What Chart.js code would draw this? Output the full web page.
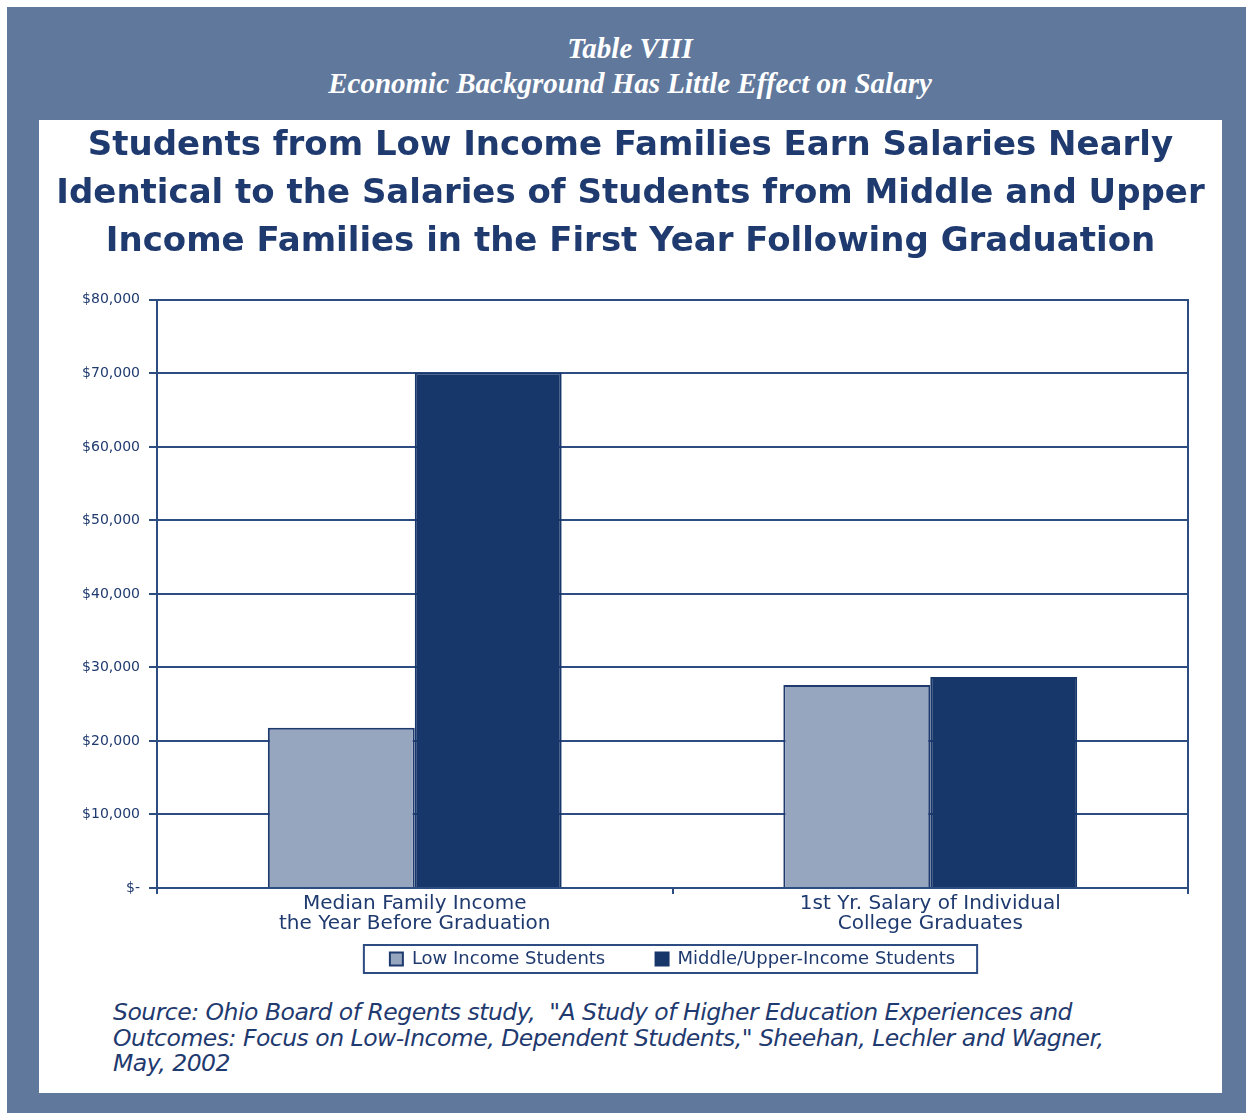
<!DOCTYPE html>
<html>
<head>
<meta charset="utf-8">
<script src="https://cdn.jsdelivr.net/npm/chart.js@4"></script>
<style>
  body { margin: 0; background: #fff; width: 1253px; height: 1120px; position: relative; overflow: hidden; }
  #frame { position: absolute; left: 7px; top: 7px; width: 1239px; height: 1106px; background: #5f789c; }
  #head { position: absolute; left: 0; top: 24px; width: 1246px; text-align: center; color: #fff;
          font-family: "Liberation Serif", serif; font-style: italic; font-weight: bold; font-size: 29px; line-height: 35px; }
  #panel { position: absolute; left: 32px; top: 113px; width: 1183px; height: 973px; background: #fff; }
  #chart { position: absolute; left: 0; top: 0; }
  #source { position: absolute; left: 74px; top: 880px; color: #1f3a6f; white-space: nowrap;
            font-family: "DejaVu Sans", sans-serif; font-style: italic; font-size: 23.5px; line-height: 25.5px; letter-spacing: -0.5px; }
</style>
</head>
<body>
<div id="frame">
  <div id="head">Table VIII<br>Economic Background Has Little Effect on Salary</div>
  <div id="panel">
    <canvas id="chart" width="1183" height="870"></canvas>
    <div id="source">Source: Ohio Board of Regents study,&nbsp; "A Study of Higher Education Experiences and<br>Outcomes: Focus on Low-Income, Dependent Students," Sheehan, Lechler and Wagner,<br>May, 2002</div>
  </div>
</div>
<script>
var navy = '#1f3a6f';
var lineCol = '#2d4c82';

var categories = [
  ['Median Family Income', 'the Year Before Graduation'],
  ['1st Yr. Salary of Individual', 'College Graduates']
];
var lowIncome = [21800, 27600];
var middleUpper = [70100, 28700];
var yTicks = [0, 10000, 20000, 30000, 40000, 50000, 60000, 70000, 80000];

// box round the legend
var legendBox = {
  id: 'legendBox',
  afterDraw: function (chart) {
    var boxes = chart.legend.legendHitBoxes;
    if (!boxes || !boxes.length) return;
    var minX = Math.min.apply(null, boxes.map(function (b) { return b.left; }));
    var maxX = Math.max.apply(null, boxes.map(function (b) { return b.left + b.width; }));
    var top = boxes[0].top, h = boxes[0].height;
    var ctx = chart.ctx;
    ctx.save();
    ctx.strokeStyle = lineCol;
    ctx.lineWidth = 2;
    ctx.strokeRect(minX - 26, top - 5, (maxX - minX) + 48, h + 10);
    ctx.restore();
  }
};

new Chart(document.getElementById('chart'), {
  type: 'bar',
  data: {
    labels: categories,
    datasets: [{
      label: 'Low Income Students',
      data: lowIncome,
      backgroundColor: '#97a6bf',
      borderColor: navy,
      borderWidth: 2
    }, {
      label: 'Middle/Upper-Income Students',
      data: middleUpper,
      backgroundColor: '#17376b',
      borderColor: '#17376b',
      borderWidth: 2
    }]
  },
  options: {
    responsive: false,
    animation: false,
    categoryPercentage: 0.57,
    barPercentage: 1.0,
    layout: { padding: { left: 0, right: 0, top: 0, bottom: 12 } },
    plugins: {
      title: {
        display: true,
        text: [
          'Students from Low Income Families Earn Salaries Nearly',
          'Identical to the Salaries of Students from Middle and Upper',
          'Income Families in the First Year Following Graduation'
        ],
        color: navy,
        font: { family: 'DejaVu Sans', size: 34, weight: 'bold', lineHeight: 1.41 },
        padding: { top: 2, bottom: 34 }
      },
      legend: {
        position: 'bottom',
        fullSize: false,
        labels: {
          color: navy,
          font: { family: 'DejaVu Sans', size: 18 },
          boxWidth: 13,
          boxHeight: 13,
          padding: 16,
          generateLabels: function (chart) {
            var items = Chart.defaults.plugins.legend.labels.generateLabels(chart);
            // wider gap between the two entries, as in the original
            items.forEach(function (it, i) {
              if (i < items.length - 1) it.text += '\u00a0\u00a0\u00a0\u00a0\u00a0\u00a0';
            });
            return items;
          }
        }
      },
      tooltip: { enabled: false }
    },
    scales: {
      x: {
        grid: { offset: true, drawOnChartArea: false, drawTicks: true, tickLength: 6, color: lineCol, lineWidth: 2 },
        border: { color: lineCol, width: 2 },
        ticks: { color: navy, maxRotation: 0, padding: 0, font: { family: 'DejaVu Sans', size: 20, lineHeight: 1.0 } }
      },
      y: {
        min: 0,
        max: 80000,
        afterFit: function (scale) { scale.width = 118; },
        afterBuildTicks: function (scale) { scale.ticks = yTicks.map(function (v) { return { value: v }; }); },
        grid: { color: lineCol, lineWidth: 2, tickLength: 8 },
        border: { color: lineCol, width: 2 },
        ticks: {
          color: navy,
          padding: 9,
          font: { family: 'DejaVu Sans', size: 14 },
          callback: function (v) { return v === 0 ? '$-' : '$' + v.toLocaleString('en-US'); }
        }
      },
      // right edge of the plot box, no labels
      yRight: {
        position: 'right',
        min: 0,
        max: 80000,
        afterFit: function (scale) { scale.width = 34; },
        grid: { display: false },
        ticks: { display: false },
        border: { display: true, color: lineCol, width: 2 }
      }
    }
  },
  plugins: [legendBox]
});
</script>
</body>
</html>
